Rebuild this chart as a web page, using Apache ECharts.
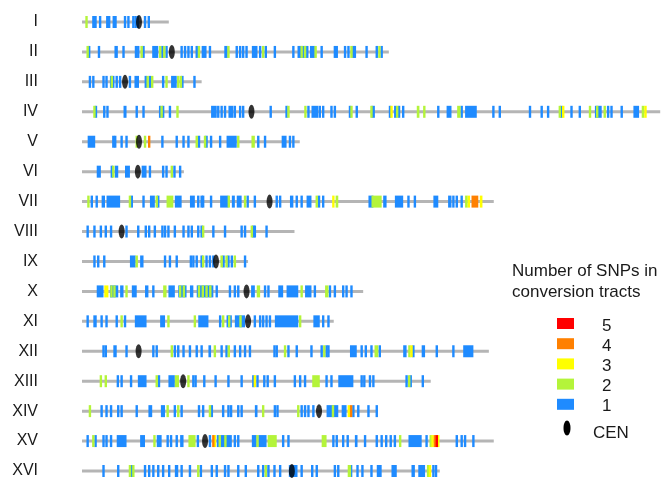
<!DOCTYPE html>
<html>
<head>
<meta charset="utf-8">
<script src="https://cdn.jsdelivr.net/npm/echarts@6/dist/echarts.min.js"></script>
<style>html,body{margin:0;padding:0;background:#fff}#c{width:667px;height:479px}</style>
</head>
<body>
<div id="c"></div>
<script>
// Chromosomes (names, length in kb, centromere position in kb)
const chrNames = ['I','II','III','IV','V','VI','VII','VIII','IX','X','XI','XII','XIII','XIV','XV','XVI'];
const chrLen = [230, 813, 317, 1532, 577, 270, 1091, 563, 440, 745, 667, 1078, 924, 784, 1091, 948];
const cenPos = [151, 238, 114, 449, 151, 148, 497, 105, 355, 436, 440, 150, 268, 628, 326, 556];

// Conversion tracts: [chromosome index, start kb, end kb], grouped by number of SNPs
const snp1 = [
  [0,27,39],[0,48,48],[0,67,67],[0,72,72],[0,81,92],[0,114,114],[0,123,123],[0,136,136],[0,142,142],[0,148,148],[0,167,167],[0,177,177],
  [1,19,19],[1,45,45],[1,86,95],[1,110,110],[1,143,143],[1,149,149],[1,163,163],[1,186,202],[1,213,213],[1,224,224],[1,264,264],[1,273,273],[1,282,282],[1,291,291],[1,304,304],[1,317,330],[1,339,339],[1,377,386],[1,410,410],[1,419,419],[1,427,427],[1,436,436],[1,450,465],[1,472,472],[1,487,487],[1,511,511],[1,560,560],[1,571,600],[1,604,617],[1,635,635],[1,670,670],[1,675,675],[1,697,697],[1,706,706],[1,719,719],[1,723,723],[1,754,754],[1,781,781],[1,794,794],
  [2,21,21],[2,30,30],[2,57,57],[2,65,65],[2,74,86],[2,92,92],[2,101,101],[2,127,127],[2,139,151],[2,169,169],[2,180,180],[2,215,215],[2,236,251],[2,266,266],[2,295,301],
  [3,37,37],[3,59,59],[3,65,70],[3,110,118],[3,145,145],[3,163,163],[3,207,207],[3,215,215],[3,233,233],[3,342,357],[3,361,361],[3,370,370],[3,379,379],[3,388,401],[3,405,405],[3,419,419],[3,427,427],[3,500,500],[3,542,542],[3,600,600],[3,608,626],[3,630,630],[3,639,639],[3,661,661],[3,670,670],[3,710,710],[3,728,728],[3,767,776],[3,816,816],[3,830,830],[3,840,840],[3,851,851],[3,944,944],[3,966,979],[3,1006,1006],[3,1015,1046],[3,1090,1090],[3,1107,1107],[3,1187,1187],[3,1218,1218],[3,1235,1235],[3,1270,1270],[3,1297,1297],[3,1319,1319],[3,1359,1377],[3,1394,1394],[3,1403,1403],[3,1430,1430],[3,1461,1476],
  [4,15,35],[4,83,83],[4,88,88],[4,105,105],[4,118,118],[4,213,213],[4,251,251],[4,269,269],[4,282,282],[4,310,310],[4,330,330],[4,342,342],[4,366,366],[4,383,410],[4,467,467],[4,485,485],[4,529,542],[4,551,551],[4,560,560],
  [5,39,50],[5,79,79],[5,87,96],[5,114,127],[5,158,171],[5,180,180],[5,215,215],[5,224,224],[5,245,245],[5,260,260],
  [6,26,26],[6,39,39],[6,52,61],[6,65,101],[6,132,132],[6,163,163],[6,180,193],[6,202,202],[6,246,264],[6,286,299],[6,308,308],[6,317,317],[6,321,321],[6,342,342],[6,366,388],[6,397,405],[6,410,423],[6,439,439],[6,458,458],[6,516,516],[6,525,525],[6,551,560],[6,569,569],[6,582,582],[6,595,608],[6,628,628],[6,639,639],[6,759,772],[6,798,807],[6,829,851],[6,865,865],[6,882,882],[6,931,944],[6,970,979],[6,984,984],[6,993,993],[6,1006,1006],
  [7,15,15],[7,33,33],[7,50,50],[7,63,63],[7,77,77],[7,118,118],[7,149,149],[7,169,169],[7,178,178],[7,193,193],[7,213,213],[7,220,220],[7,229,229],[7,246,246],[7,269,269],[7,282,282],[7,291,291],[7,308,308],[7,317,317],[7,348,348],[7,379,379],[7,423,423],[7,432,432],[7,454,454],[7,458,458],[7,489,489],
  [8,33,33],[8,43,43],[8,59,59],[8,127,142],[8,154,163],[8,220,220],[8,233,233],[8,251,251],[8,286,291],[8,295,295],[8,304,304],[8,317,317],[8,330,330],[8,339,339],[8,348,348],[8,375,375],[8,388,388],[8,397,397],[8,432,432],
  [9,39,57],[9,74,96],[9,101,110],[9,132,145],[9,167,176],[9,189,189],[9,229,246],[9,255,277],[9,286,295],[9,304,348],[9,357,357],[9,392,392],[9,405,405],[9,414,414],[9,448,458],[9,485,485],[9,494,494],[9,520,533],[9,542,573],[9,591,608],[9,617,617],[9,657,657],[9,670,670],[9,692,692],[9,701,701],[9,714,714],
  [10,15,15],[10,30,39],[10,52,52],[10,65,65],[10,92,92],[10,114,114],[10,140,171],[10,207,220],[10,308,335],[10,366,366],[10,383,397],[10,405,432],[10,458,458],[10,472,472],[10,480,480],[10,489,489],[10,498,498],[10,511,573],[10,613,630],[10,639,639],[10,653,653],
  [11,57,57],[11,61,65],[11,83,92],[11,118,118],[11,189,189],[11,198,198],[11,246,246],[11,255,255],[11,269,269],[11,286,286],[11,304,304],[11,317,317],[11,335,342],[11,370,370],[11,383,383],[11,405,405],[11,419,419],[11,432,432],[11,445,445],[11,510,510],[11,516,516],[11,547,547],[11,569,569],[11,608,608],[11,635,635],[11,648,648],[11,653,653],[11,710,728],[11,741,741],[11,750,754],[11,767,767],[11,789,789],[11,851,860],[11,878,878],[11,900,909],[11,940,940],[11,984,984],[11,1010,1037],
  [12,95,95],[12,105,105],[12,130,130],[12,148,171],[12,204,204],[12,229,246],[12,295,295],[12,301,301],[12,324,324],[12,351,357],[12,388,388],[12,423,423],[12,454,454],[12,465,465],[12,483,483],[12,492,492],[12,511,511],[12,564,564],[12,578,578],[12,591,591],[12,648,648],[12,661,661],[12,679,719],[12,741,741],[12,748,748],[12,763,763],[12,772,772],[12,860,860],[12,871,871],[12,903,903],
  [13,52,52],[13,65,65],[13,77,77],[13,96,96],[13,105,105],[13,145,145],[13,176,186],[13,209,220],[13,246,246],[13,264,264],[13,310,310],[13,321,321],[13,344,344],[13,374,374],[13,388,388],[13,395,395],[13,414,414],[13,423,423],[13,458,465],[13,511,511],[13,518,518],[13,582,582],[13,591,591],[13,600,600],[13,613,613],[13,648,679],[13,688,701],[13,719,719],[13,732,732],[13,759,759],[13,781,781],
  [14,15,15],[14,36,36],[14,57,57],[14,65,65],[14,77,77],[14,92,118],[14,154,167],[14,198,211],[14,227,227],[14,236,236],[14,251,251],[14,260,269],[14,304,310],[14,339,339],[14,357,397],[14,405,405],[14,414,414],[14,450,463],[14,467,489],[14,533,533],[14,547,547],[14,666,666],[14,675,675],[14,692,692],[14,704,704],[14,723,730],[14,750,750],[14,781,781],[14,794,794],[14,806,806],[14,818,818],[14,829,829],[14,865,900],[14,913,913],[14,993,993],[14,1006,1006],[14,1015,1015],[14,1037,1037],
  [15,57,57],[15,96,96],[15,132,132],[15,167,167],[15,178,178],[15,189,189],[15,202,202],[15,215,215],[15,231,231],[15,246,255],[15,264,264],[15,286,286],[15,315,315],[15,344,344],[15,357,357],[15,379,379],[15,388,388],[15,414,414],[15,434,434],[15,467,467],[15,480,480],[15,494,494],[15,510,510],[15,525,525],[15,548,571],[15,582,582],[15,610,610],[15,622,622],[15,670,670],[15,679,679],[15,713,713],[15,730,730],[15,743,743],[15,767,767],[15,781,794],[15,820,834],[15,873,882],[15,891,909],[15,931,931],[15,938,938]
];
const snp2 = [
  [0,12,12],
  [1,15,15],[1,158,158],[1,207,207],[1,218,218],[1,310,310],[1,388,388],[1,480,480],[1,582,582],[1,591,591],[1,619,619],[1,714,714],[1,788,788],
  [2,79,79],[2,174,174],[2,186,186],[2,224,224],[2,255,255],[2,262,262],
  [3,33,33],[3,211,211],[3,253,253],[3,547,547],[3,589,595],[3,714,714],[3,767,767],[3,835,835],[3,887,894],[3,904,910],[3,994,1003],[3,1266,1266],[3,1346,1346],[3,1365,1365],[3,1385,1385],[3,1483,1490],
  [4,145,145],[4,167,167],[4,304,304],[4,326,326],[4,414,414],[4,449,458],
  [5,83,83],[5,238,238],
  [6,17,17],[6,127,127],[6,198,198],[6,224,242],[6,389,389],[6,432,432],[6,622,622],[6,672,679],[6,767,794],[6,1015,1022],
  [7,321,321],[7,450,450],
  [8,145,145],[8,321,321],[8,370,370],[8,383,383],[8,405,405],
  [9,78,78],[9,86,86],[9,118,118],[9,215,224],[9,260,260],[9,270,270],[9,310,310],[9,320,320],[9,330,330],[9,340,340],[9,463,472],[9,582,582],[9,644,653],
  [10,105,105],[10,229,229],[10,299,299],[10,374,374],[10,390,390],[10,420,420],[10,578,578],
  [11,238,238],[11,352,352],[11,389,389],[11,538,538],[11,642,642],[11,775,785],[11,865,870],
  [12,50,50],[12,63,63],[12,198,198],[12,246,257],[12,282,282],[12,610,630],[12,867,867],
  [13,21,21],[13,227,227],[13,255,255],[13,339,339],[13,480,480],[13,573,573],[13,665,665],
  [14,30,30],[14,192,192],[14,282,301],[14,365,365],[14,380,380],[14,465,465],[14,492,516],[14,635,648],[14,843,843],[14,922,926],
  [15,127,127],[15,136,136],[15,308,308],[15,487,487],[15,704,713],[15,917,917]
];
const snp3 = [
  [3,820,820],[3,1275,1275],[3,1490,1496],
  [6,666,666],[6,1022,1028],[6,1054,1061],
  [9,59,70],
  [11,873,873],
  [12,458,458],
  [13,707,707],
  [14,352,352],[14,929,929],[14,944,944],
  [15,922,922]
];
const snp4 = [
  [4,178,178],
  [6,1032,1050],
  [13,713,713],
  [14,348,348],[14,935,935]
];
const snp5 = [
  [14,940,940]
];

// Legend
const legendTitle = ['Number of SNPs in', 'conversion tracts'];
const legendLabels = ['5', '4', '3', '2', '1'];
const snpColors = ['#ff0000', '#ff8000', '#ffff00', '#b4f43a', '#1f8bff'];
const snpSeries = [snp5, snp4, snp3, snp2, snp1];

const chart = echarts.init(document.getElementById('c'), null, {renderer: 'canvas'});
const FONT = '"Liberation Sans", Arial, sans-serif';

function tractRender(params, api) {
  const c = api.value(0);
  const p1 = api.coord([api.value(1), c]);
  const p2 = api.coord([api.value(2), c]);
  const w = Math.max(p2[0] - p1[0], 2.4);
  const cx = (p1[0] + p2[0]) / 2;
  return {
    type: 'rect',
    shape: {x: cx - w / 2, y: p1[1] - 6, width: w, height: 12},
    style: {fill: api.visual('color')}
  };
}

const series = [{
  type: 'bar',
  data: chrLen,
  barWidth: 3,
  itemStyle: {color: '#b5b5b5'},
  silent: true,
  z: 1
}];
// draw from 1 SNP up to 5 SNPs so higher counts sit on top
for (let i = snpSeries.length - 1; i >= 0; i--) {
  series.push({
    type: 'custom',
    name: legendLabels[i],
    data: snpSeries[i],
    renderItem: tractRender,
    itemStyle: {color: snpColors[i]},
    encode: {x: [1, 2], y: 0},
    z: 2 + (snpSeries.length - i)
  });
}
series.push({
  type: 'scatter',
  name: 'CEN',
  data: cenPos.map((p, i) => [p, i]),
  symbol: 'path://M50,0 A50,50 0 1,1 50,100 A50,50 0 1,1 50,0 Z',
  symbolSize: [6, 14],
  itemStyle: {color: '#000'},
  z: 10
});

const graphic = [];
legendTitle.forEach((t, i) => {
  graphic.push({type: 'text', left: 512, top: 263 + i * 21,
    style: {text: t, font: '17px ' + FONT, fill: '#1a1a1a'}});
});
legendLabels.forEach((t, i) => {
  const y = 318 + i * 20.2;
  graphic.push({type: 'rect', shape: {x: 557, y: y, width: 17, height: 11},
    style: {fill: snpColors[i]}});
  graphic.push({type: 'text', x: 602, y: y + 8,
    style: {text: t, font: '17px ' + FONT, fill: '#1a1a1a', verticalAlign: 'middle'}});
});
graphic.push({type: 'ellipse', shape: {cx: 567, cy: 428, rx: 3.5, ry: 7.5}, style: {fill: '#000'}});
graphic.push({type: 'text', x: 593, y: 433,
  style: {text: 'CEN', font: '17px ' + FONT, fill: '#1a1a1a', verticalAlign: 'middle'}});

chart.setOption({
  animation: false,
  grid: {left: 82, right: 0, top: 22, bottom: 7},
  xAxis: {type: 'value', min: 0, max: 1550, show: false},
  yAxis: {
    type: 'category', data: chrNames, inverse: true, boundaryGap: false,
    axisLine: {show: false}, axisTick: {show: false}, splitLine: {show: false},
    axisLabel: {fontSize: 16, color: '#1a1a1a', margin: 44, fontFamily: FONT}
  },
  series: series,
  graphic: graphic
});
</script>
</body>
</html>
